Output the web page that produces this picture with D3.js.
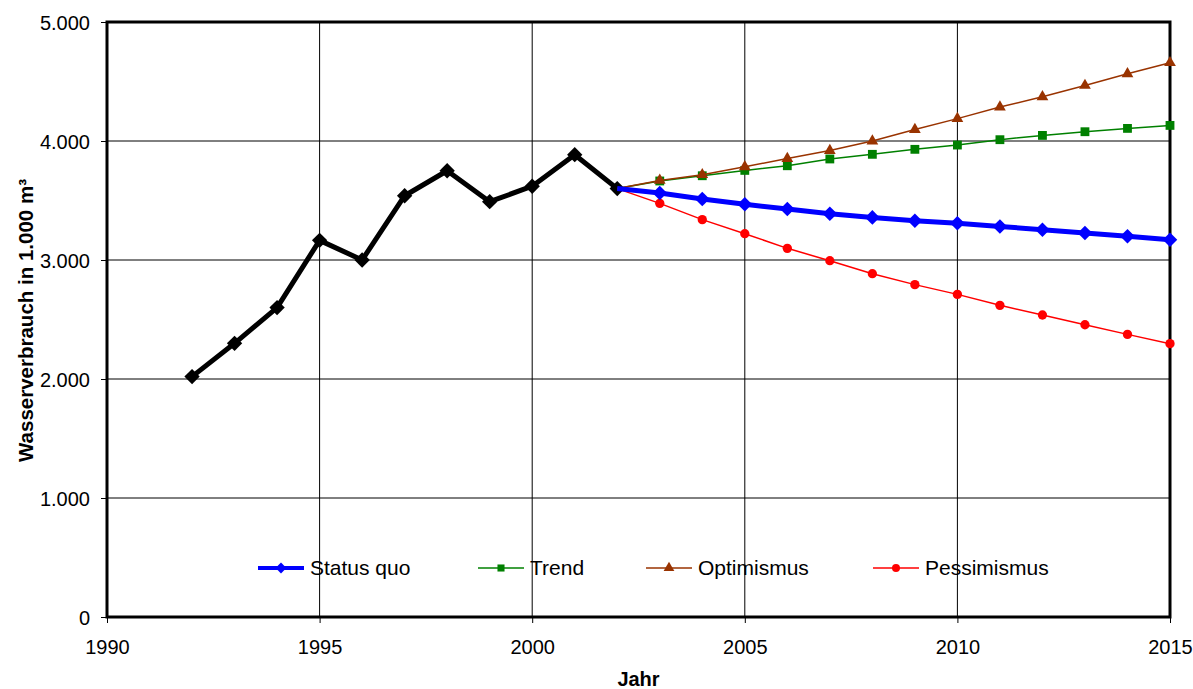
<!DOCTYPE html>
<html>
<head>
<meta charset="utf-8">
<script src="https://cdn.jsdelivr.net/npm/d3@7"></script>
<style>
  html, body { margin: 0; padding: 0; background: #fff; }
  svg { display: block; font-family: Arial, "Liberation Sans", sans-serif; }
</style>
</head>
<body>
<svg id="chart" width="1193" height="689"></svg>
<script>
// Water consumption (in 1,000 m³): history and four projection scenarios
const historyYears = [1992, 1993, 1994, 1995, 1996, 1997, 1998, 1999, 2000, 2001, 2002];
const historyValues = [2020, 2300, 2600, 3165, 3000, 3540, 3750, 3490, 3620, 3885, 3600];

const projYears = [2002, 2003, 2004, 2005, 2006, 2007, 2008, 2009, 2010, 2011, 2012, 2013, 2014, 2015];
const statusQuo   = [3600, 3563, 3513, 3468, 3429, 3389, 3358, 3330, 3308, 3282, 3255, 3227, 3199, 3170];
const trend       = [3600, 3664, 3708, 3753, 3792, 3849, 3888, 3930, 3966, 4011, 4047, 4078, 4106, 4131];
const optimismus  = [3600, 3669, 3717, 3783, 3853, 3920, 4000, 4096, 4188, 4285, 4372, 4467, 4565, 4658];
const pessimismus = [3600, 3476, 3339, 3221, 3098, 2994, 2885, 2793, 2711, 2619, 2538, 2456, 2375, 2297];

const xTicks = [1990, 1995, 2000, 2005, 2010, 2015];
const yTicks = [0, 1000, 2000, 3000, 4000, 5000];

const legendNames = ["Status quo", "Trend", "Optimismus", "Pessimismus"];

const series = [
  { name: legendNames[0], values: statusQuo,   color: "#0000ff", width: 5,   legendWidth: 4,   symbol: d3.symbolDiamond2, size: 135, legendSize: 75, legendX: 258 },
  { name: legendNames[1], values: trend,       color: "#008000", width: 1.5, legendWidth: 1.5, symbol: d3.symbolSquare,   size: 78,  legendSize: 50, legendX: 478 },
  { name: legendNames[2], values: optimismus,  color: "#993300", width: 1.5, legendWidth: 1.5, symbol: d3.symbolTriangle, size: 60,  legendSize: 50, legendX: 646 },
  { name: legendNames[3], values: pessimismus, color: "#ff0000", width: 1.5, legendWidth: 1.5, symbol: d3.symbolCircle,   size: 68,  legendSize: 50, legendX: 873 }
];

const svg = d3.select("#chart");
const margin = { left: 107, top: 22, right: 23, bottom: 72 };
const W = 1193 - margin.left - margin.right;
const H = 689 - margin.top - margin.bottom;

const x = d3.scaleLinear().domain([1990, 2015]).range([0, W]);
const y = d3.scaleLinear().domain([0, 5000]).range([H, 0]);

const g = svg.append("g").attr("transform", `translate(${margin.left},${margin.top})`);

const fmt = d => d === 0 ? "0" : d3.format(",")(d).replace(/,/g, ".");

// Left axis with tick labels
const yAxis = g.append("g")
  .call(d3.axisLeft(y).tickValues(yTicks).tickSize(6).tickFormat(fmt));
yAxis.select(".domain").remove();
yAxis.selectAll("text").attr("font-size", 20).attr("fill", "#000").attr("x", -17).attr("dy", "0.35em");
yAxis.selectAll("line").attr("stroke", "#000");

// Horizontal gridlines
g.append("g").selectAll("line").data(yTicks.filter(d => d > 0 && d < 5000)).join("line")
  .attr("x1", 0).attr("x2", W).attr("y1", d => y(d)).attr("y2", d => y(d))
  .attr("stroke", "#000").attr("stroke-width", 1);

// Bottom axis with tick labels
const xAxis = g.append("g").attr("transform", `translate(0,${H})`)
  .call(d3.axisBottom(x).tickValues(xTicks).tickSize(6).tickFormat(d3.format("d")));
xAxis.select(".domain").remove();
xAxis.selectAll("text").attr("font-size", 20).attr("fill", "#000").attr("y", 23).attr("dy", "0.71em");
xAxis.selectAll("line").attr("stroke", "#000");

// Vertical gridlines
g.append("g").selectAll("line").data(xTicks.filter(d => d > 1990 && d < 2015)).join("line")
  .attr("x1", d => x(d)).attr("x2", d => x(d)).attr("y1", 0).attr("y2", H)
  .attr("stroke", "#000").attr("stroke-width", 1);

// Plot frame
g.append("rect").attr("x", 0).attr("y", 0).attr("width", W).attr("height", H)
  .attr("fill", "none").attr("stroke", "#000").attr("stroke-width", 3);

const line = d3.line().x(d => x(d[0])).y(d => y(d[1]));

// Historical values
const hist = historyYears.map((yr, i) => [yr, historyValues[i]]);
g.append("path").datum(hist).attr("d", line)
  .attr("fill", "none").attr("stroke", "#000").attr("stroke-width", 5).attr("stroke-linejoin", "round");
g.append("g").selectAll("path").data(hist).join("path")
  .attr("transform", d => `translate(${x(d[0])},${y(d[1])})`)
  .attr("d", d3.symbol().type(d3.symbolDiamond2).size(150)).attr("fill", "#000");

// Scenario lines, thin ones first so the status quo line sits on top
const drawOrder = [series[3], series[1], series[2], series[0]];
drawOrder.forEach(s => {
  const pts = projYears.map((yr, i) => [yr, s.values[i]]);
  g.append("path").datum(pts).attr("d", line)
    .attr("fill", "none").attr("stroke", s.color).attr("stroke-width", s.width).attr("stroke-linejoin", "round");
  g.append("g").selectAll("path").data(pts.slice(1)).join("path")
    .attr("transform", d => `translate(${x(d[0])},${y(d[1])})`)
    .attr("d", d3.symbol().type(s.symbol).size(s.size)).attr("fill", s.color);
});

// Legend
const legY = 568;
const leg = svg.append("g");
series.forEach(s => {
  const it = leg.append("g").attr("transform", `translate(${s.legendX},${legY})`);
  it.append("line").attr("x1", 0).attr("x2", 46).attr("y1", 0).attr("y2", 0)
    .attr("stroke", s.color).attr("stroke-width", s.legendWidth);
  it.append("path").attr("transform", "translate(23,0)")
    .attr("d", d3.symbol().type(s.symbol).size(s.legendSize)).attr("fill", s.color);
  it.append("text").attr("x", 52).attr("y", 0).attr("dy", "0.35em")
    .attr("font-size", 21).attr("fill", "#000").text(s.name);
});

// Axis titles
svg.append("text").attr("x", margin.left + W / 2).attr("y", 686)
  .attr("text-anchor", "middle").attr("font-size", 20).attr("font-weight", "bold").text("Jahr");
svg.append("text").attr("transform", `translate(33,${margin.top + H / 2 + 1}) rotate(-90)`)
  .attr("text-anchor", "middle").attr("font-size", 20.5).attr("font-weight", "bold")
  .text("Wasserverbrauch in 1.000 m³");
</script>
</body>
</html>
